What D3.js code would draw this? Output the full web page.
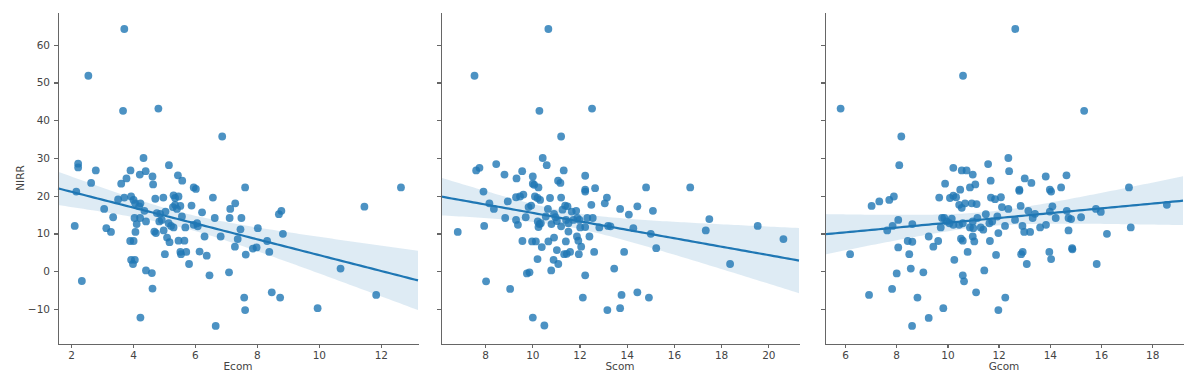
<!DOCTYPE html>
<html lang="en">
<head>
<meta charset="UTF-8">
<title>NIRR vs Ecom / Scom / Gcom</title>
<script src="https://cdn.jsdelivr.net/npm/d3@7"></script>
<style>
  body { margin: 0; background: #fff; }
  .axis path, .axis line { fill: none; stroke: #666; stroke-width: 1.3; shape-rendering: crispEdges; }
  .axis text { font-family: 'DejaVu Sans', sans-serif; font-size: 10.5px; fill: #444; }
  .lbl { font-family: 'DejaVu Sans', sans-serif; font-size: 10.5px; fill: #444; }
</style>
</head>
<body>
<div id="container"></div>
<script>
// points [x, NIRR]
const ecomPts = [
  [3.72,64.2],[2.56,51.8],[3.68,42.5],[4.82,43.1],[6.88,35.7],[4.34,30.0],[5.16,28.1],[2.23,28.5],[2.23,27.5],
  [2.8,26.7],[3.92,26.7],[4.41,26.5],[4.22,25.6],[4.63,25.1],[5.45,25.4],[3.79,24.6],[5.59,24.0],[2.65,23.4],
  [3.62,23.2],[4.65,23.0],[12.65,22.2],[7.62,22.2],[5.96,22.2],[6.03,21.8],[2.17,21.1],[2.12,12.0],[2.35,-2.6],
  [3.07,16.5],[3.14,11.4],[3.29,10.4],[3.36,14.3],[3.52,19.0],[3.72,19.5],[3.94,19.8],[4.02,18.9],[4.07,18.0],
  [4.24,18.0],[4.2,17.2],[4.05,14.1],[4.23,14.1],[4.12,12.5],[3.91,8.0],[4.02,8.0],[3.94,3.0],[4.06,3.0],
  [4.0,1.9],[4.08,10.4],[4.42,0.2],[4.61,-0.5],[4.63,-4.6],[4.24,-12.3],[4.37,16.0],[4.42,13.2],[4.69,10.5],
  [4.74,10.1],[4.72,19.2],[4.77,15.4],[4.88,15.2],[4.85,13.2],[4.93,13.6],[4.98,19.5],[4.99,10.8],[5.03,4.5],
  [5.05,15.8],[5.1,8.9],[5.18,7.7],[5.15,12.7],[5.23,12.0],[5.31,11.6],[5.31,20.1],[5.36,19.4],[5.47,19.8],
  [5.36,17.6],[5.53,17.3],[5.29,17.0],[5.42,16.5],[5.47,8.1],[5.66,8.1],[5.53,5.1],[5.72,5.1],[5.55,4.5],
  [5.58,14.5],[5.69,11.6],[5.81,1.9],[5.89,17.4],[5.96,12.3],[6.09,11.9],[6.07,12.7],[6.15,5.2],[6.23,15.6],
  [6.31,9.2],[6.38,4.1],[6.58,19.5],[6.64,14.1],[6.47,-1.1],[6.83,9.2],[6.67,-14.5],[7.1,-0.3],[7.12,14.1],
  [7.14,16.5],[7.3,18.0],[7.29,6.5],[7.38,8.5],[7.47,11.1],[7.5,14.1],[7.64,4.4],[7.59,-7.0],[7.62,-10.3],
  [7.87,6.0],[7.99,6.3],[8.03,11.4],[8.33,8.0],[8.4,5.1],[8.48,-5.6],[8.71,15.1],[8.79,16.0],[8.84,9.9],
  [8.75,-7.0],[9.96,-9.8],[10.7,0.7],[11.47,17.1],[11.85,-6.3]
];
const scomPts = [
  [10.68,64.2],[7.55,51.8],[10.3,42.5],[12.53,43.1],[11.22,35.7],[10.44,30.0],[10.61,28.1],[7.62,26.7],[7.76,27.4],
  [8.47,28.4],[8.82,25.6],[9.33,24.6],[9.57,26.5],[10.02,25.1],[10.02,23.2],[10.08,22.9],[11.33,26.7],[11.09,24.0],
  [11.19,23.4],[12.24,25.3],[10.26,22.2],[14.82,22.2],[16.69,22.2],[12.24,21.6],[12.66,22.0],[7.93,21.1],[6.84,10.4],
  [7.96,12.0],[8.04,-2.7],[8.18,18.0],[8.37,16.5],[8.85,14.1],[8.96,18.5],[9.06,-4.7],[9.31,19.6],[9.48,19.8],
  [9.62,20.3],[9.31,13.6],[9.39,12.3],[9.58,8.0],[9.72,14.3],[9.77,-0.6],[9.88,-0.3],[9.84,17.0],[9.95,17.4],
  [9.99,7.9],[10.15,7.9],[10.02,-12.3],[10.11,19.8],[10.22,19.4],[10.33,18.9],[10.23,13.2],[10.3,12.5],[10.26,11.7],
  [10.36,12.7],[10.22,3.2],[10.4,6.4],[10.51,-14.4],[10.57,14.5],[10.66,16.5],[10.68,7.9],[10.75,19.4],[10.8,0.2],
  [10.81,12.5],[10.9,3.0],[11.1,1.9],[10.92,15.2],[10.98,14.3],[11.04,13.3],[10.92,8.9],[11.04,5.6],[11.22,19.5],
  [11.28,16.3],[11.22,11.9],[11.35,4.5],[11.46,4.6],[11.6,5.1],[11.39,17.4],[11.49,17.2],[11.42,7.9],[11.43,13.6],
  [11.53,12.7],[11.53,10.5],[11.67,15.8],[11.86,16.0],[11.74,13.6],[11.91,14.1],[12.0,13.6],[11.89,9.2],[11.95,8.1],
  [12.07,6.5],[11.97,4.5],[12.03,11.6],[12.24,11.7],[12.24,21.1],[12.24,-1.1],[12.14,-7.0],[12.33,14.1],[12.56,14.1],
  [12.42,9.2],[12.5,17.6],[12.62,5.1],[12.84,11.6],[13.07,18.0],[13.16,19.5],[13.21,12.0],[13.31,11.9],[13.18,-10.3],
  [13.47,0.7],[13.72,16.5],[13.72,-9.8],[13.78,-6.3],[13.89,5.1],[14.09,15.0],[14.28,11.4],[14.45,17.2],[14.45,-5.6],
  [14.94,-7.0],[15.02,9.9],[15.11,16.0],[15.25,6.1],[17.35,10.8],[17.5,13.8],[18.38,1.9],[19.55,12.0],[20.64,8.5]
];
const gcomPts = [
  [12.65,64.2],[10.61,51.8],[5.83,43.1],[15.34,42.5],[8.2,35.7],[12.38,30.0],[8.12,28.1],[11.59,28.4],[10.23,27.4],
  [10.56,26.7],[10.75,26.7],[10.99,25.6],[12.41,26.5],[11.69,24.0],[13.02,24.6],[13.28,23.4],[13.84,25.1],[14.65,25.4],
  [9.91,23.2],[10.88,22.2],[11.09,23.0],[17.09,22.2],[12.81,21.6],[14.0,21.6],[14.44,22.2],[10.5,21.6],[7.04,17.3],
  [7.34,18.5],[7.73,18.9],[7.91,19.8],[6.2,4.5],[6.94,-6.3],[7.65,10.8],[7.86,12.0],[8.08,13.6],[7.84,-4.7],
  [8.02,-0.6],[8.08,6.3],[8.45,8.0],[8.63,7.8],[8.51,4.5],[8.57,0.7],[8.63,12.5],[8.62,-14.5],[8.83,-7.0],
  [9.06,-0.3],[9.27,9.2],[9.27,-12.4],[9.45,6.5],[9.64,8.0],[9.68,19.5],[9.74,11.6],[9.79,14.1],[9.88,14.1],
  [9.97,13.2],[9.84,-9.8],[10.1,19.4],[10.23,20.0],[10.34,19.6],[10.08,12.7],[10.17,13.9],[10.23,12.3],[10.27,3.0],
  [10.46,17.6],[10.56,16.8],[10.69,18.0],[10.46,12.3],[10.6,12.7],[10.53,8.6],[10.6,8.1],[10.6,-1.1],[10.65,-2.7],
  [10.79,5.1],[10.88,11.6],[11.01,11.4],[10.99,13.2],[10.95,18.0],[11.14,17.8],[10.99,9.2],[11.05,7.9],[11.12,-5.6],
  [11.17,14.1],[11.3,11.6],[11.4,11.0],[11.44,0.2],[11.5,15.1],[11.66,8.0],[11.64,12.7],[11.75,13.2],[11.7,19.5],
  [11.86,19.1],[12.09,19.6],[11.9,4.3],[11.95,14.5],[11.99,10.1],[11.99,-10.3],[12.13,17.0],[12.38,16.5],[12.25,12.0],
  [12.26,-7.0],[12.64,13.6],[12.81,21.3],[12.86,17.3],[12.88,4.5],[12.94,5.1],[12.93,12.0],[13.0,10.4],[13.23,10.4],
  [13.1,1.9],[13.16,16.0],[13.33,14.1],[13.42,15.2],[13.62,11.6],[13.85,12.3],[13.98,5.1],[14.0,15.8],[14.1,17.2],
  [14.05,21.1],[14.05,3.2],[14.23,14.1],[14.66,16.0],[14.73,14.1],[14.83,13.8],[14.73,10.8],[14.87,6.1],[14.88,5.8],
  [15.22,14.3],[15.8,16.5],[15.99,15.7],[15.83,1.9],[16.23,9.9],[17.16,11.6],[18.57,17.6]
];
const xLabels = ["Ecom", "Scom", "Gcom"];
const xDomains = [[1.58, 13.2], [6.13, 21.3], [5.22, 19.2]];
const xTicks = [[2,4,6,8,10,12], [8,10,12,14,16,18,20], [6,8,10,12,14,16,18]];
const yDomain = [-19.3, 68.7];
const yTicks = [-10,0,10,20,30,40,50,60];
const yLabel = "NIRR";

const W = 1200, H = 378;
const panelX = [[58, 418], [441, 799], [825, 1183]];
const padTop = 12, padBottom = 344;
const color = "#1f77b4";

const svg = d3.select("#container").append("svg")
  .attr("width", W).attr("height", H);

const yScale = d3.scaleLinear().domain(yDomain).range([padBottom, padTop]);

// ordinary least squares + 95% CI of the mean prediction
function fit(pts, dom) {
  const n = pts.length;
  const mx = d3.mean(pts, d => d[0]), my = d3.mean(pts, d => d[1]);
  const sxx = d3.sum(pts, d => (d[0]-mx)**2);
  const sxy = d3.sum(pts, d => (d[0]-mx)*(d[1]-my));
  const b = sxy / sxx, a = my - b*mx;
  const sse = d3.sum(pts, d => (d[1] - a - b*d[0])**2);
  const s = Math.sqrt(sse / (n-2));
  const t = 1.98;
  return d3.range(0, 101).map(i => {
    const x = dom[0] + (dom[1]-dom[0]) * i/100;
    const yh = a + b*x;
    const se = s * Math.sqrt(1/n + (x-mx)**2/sxx);
    return {x, y: yh, lo: yh - t*se, hi: yh + t*se};
  });
}

[ecomPts, scomPts, gcomPts].forEach((pts, i) => {
  const xScale = d3.scaleLinear().domain(xDomains[i]).range(panelX[i]);
  const g = svg.append("g");
  const line = fit(pts, xDomains[i]);

  g.append("path")
    .datum(line)
    .attr("fill", color).attr("fill-opacity", 0.15)
    .attr("d", d3.area().x(d => xScale(d.x)).y0(d => yScale(d.lo)).y1(d => yScale(d.hi)));

  g.selectAll("circle")
    .data(pts)
    .enter()
    .append("circle")
    .attr("cx", d => xScale(d[0]))
    .attr("cy", d => yScale(d[1]))
    .attr("r", 3.9)
    .attr("fill", color)
    .attr("fill-opacity", 0.8);

  g.append("path")
    .datum(line)
    .attr("fill", "none").attr("stroke", color).attr("stroke-width", 2.2)
    .attr("d", d3.line().x(d => xScale(d.x)).y(d => yScale(d.y)));

  const xAxis = d3.axisBottom(xScale).tickValues(xTicks[i]).tickSize(4).tickPadding(4).tickSizeOuter(0);
  g.append("g").attr("class", "axis")
    .attr("transform", "translate(0," + padBottom + ")")
    .call(xAxis);

  const yAxis = d3.axisLeft(yScale).tickValues(yTicks).tickSize(4).tickPadding(4).tickSizeOuter(0);
  if (i > 0) yAxis.tickFormat("");
  g.append("g").attr("class", "axis")
    .attr("transform", "translate(" + panelX[i][0] + ",0)")
    .call(yAxis);

  g.append("text").attr("class", "lbl")
    .attr("x", (panelX[i][0] + panelX[i][1]) / 2)
    .attr("y", 370)
    .attr("text-anchor", "middle")
    .text(xLabels[i]);
});

svg.append("text").attr("class", "lbl")
  .attr("transform", "translate(24," + ((padTop + padBottom) / 2) + ") rotate(-90)")
  .attr("text-anchor", "middle")
  .text(yLabel);
</script>
</body>
</html>
